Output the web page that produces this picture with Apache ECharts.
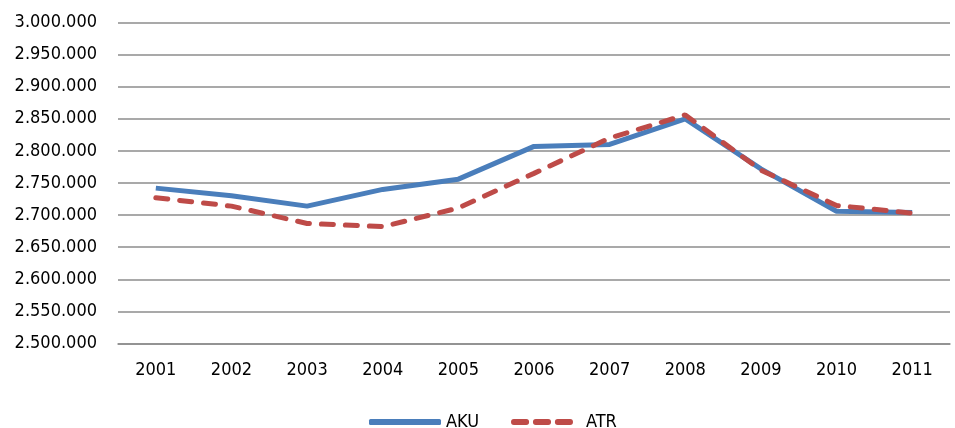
<!DOCTYPE html>
<html><head><meta charset="utf-8">
<script src="https://cdn.jsdelivr.net/npm/echarts@6/dist/echarts.min.js"></script>
<style>html,body{margin:0;padding:0;background:#fff}#c{width:955px;height:428px}</style>
</head><body><div id="c"></div>
<script>
const years = ['2001','2002','2003','2004','2005','2006','2007','2008','2009','2010','2011'];
const aku = [2742000,2730000,2714000,2740000,2756000,2807000,2810000,2850000,2772000,2706000,2704000];
const atr = [2727000,2714000,2687000,2682000,2711000,2765000,2820000,2856000,2770000,2715000,2703000];
const yTicks = [2500000,3000000,50000]; // min, max, interval

function fmt(v){return String(v).replace(/\B(?=(\d{3})+(?!\d))/g,'.');}
function pill(x){return 'M'+(x+3)+',0h13a3,3 0 0 1 0,6h-13a3,3 0 0 1 0,-6z';}
const dashIcon = 'path://' + pill(0) + pill(23) + pill(46);
const F = 'DejaVu Sans Condensed';
const chart = echarts.init(document.getElementById('c'));
chart.setOption({
  animation:false,
  grid:{left:118,right:5,top:22.5,bottom:84.5},
  legend:[
    {left:364,top:408,itemWidth:72,itemHeight:6,symbolKeepAspect:false,
     textStyle:{fontFamily:F,fontSize:18,color:'#000',padding:[0,0,0,0]},
     data:[{name:'AKU',icon:'roundRect'}]},
    {left:506,top:408,itemWidth:62,itemHeight:6,symbolKeepAspect:false,
     textStyle:{fontFamily:F,fontSize:18,color:'#000',padding:[0,0,0,8]},
     data:[{name:'ATR',icon:dashIcon}]}
  ],
  xAxis:{type:'category',data:years,boundaryGap:true,
    axisLine:{lineStyle:{color:'#8c8c8c',width:1.5}},axisTick:{show:false},
    axisLabel:{fontFamily:F,fontSize:18,color:'#000',margin:18}},
  yAxis:{type:'value',min:yTicks[0],max:yTicks[1],interval:yTicks[2],
    axisLine:{show:false},axisTick:{show:false},
    splitLine:{lineStyle:{color:'#8c8c8c',width:1.5}},
    axisLabel:{fontFamily:F,fontSize:18,color:'#000',margin:21,formatter:fmt}},
  series:[
    {name:'AKU',type:'line',data:aku,symbol:'none',color:'#4a7ebb',
     lineStyle:{width:5,color:'#4a7ebb'}},
    {name:'ATR',type:'line',data:atr,symbol:'none',color:'#be4b48',
     lineStyle:{width:5,color:'#be4b48',type:[12,12],cap:'round'}}
  ]
});
</script></body></html>
